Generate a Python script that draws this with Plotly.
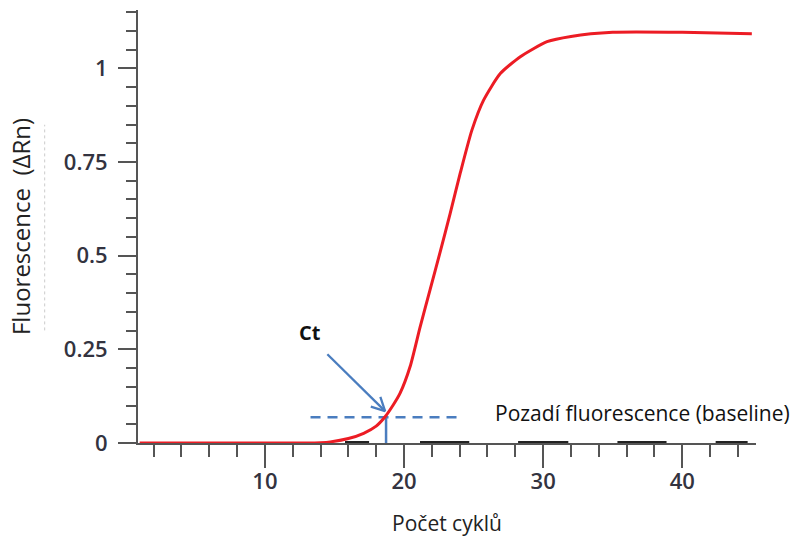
import math
import plotly.graph_objects as go

# Amplification curve (cycle number vs fluorescence ΔRn)
cycles = [1, 5, 10, 13, 14, 14.7, 16, 17.1, 18, 18.64, 19.2, 19.72, 20.44, 21.16,
          21.88, 22.6, 23.32, 24.04, 24.88, 25.72, 26.92, 28.36, 30.28, 32, 35, 40, 45]
fluorescence = [0, 0, 0, 0, 0.001, 0.003, 0.012, 0.026, 0.045, 0.07, 0.10, 0.133,
                0.204, 0.31, 0.41, 0.51, 0.613, 0.72, 0.835, 0.915, 0.986, 1.031,
                1.071, 1.085, 1.096, 1.096, 1.092]

# Threshold (baseline) and Ct
threshold_x = [13.28, 24.04]
threshold_y = 0.0686
ct_cycle = 18.71

# Arrow pointing to Ct
arrow_tail = (14.49, 0.237)
arrow_tip = (18.64, 0.085)
ct_label_pos = (13.24, 0.294)
baseline_label_pos = (26.4, 0.08)

# Thick dark segments visible on the x axis
axis_segments = [(15.76, 17.49), (21.15, 24.69), (28.2, 31.81), (35.34, 38.87), (42.4, 44.7)]

x_tickvals = [10, 20, 30, 40]
x_ticktext = ["10", "20", "30", "40"]
y_tickvals = [0, 0.25, 0.5, 0.75, 1]
y_ticktext = ["0", "0.25", "0.5", "0.75", "1"]

x_range = [0.88, 45.3]
y_range = [0, 1.1556]
W, H = 801, 539
margin = dict(l=138, r=45, t=10, b=96)

blue = "#4a7dbf"
red = "#ec1c24"
axis_col = "#555555"

fig = go.Figure()

seg_x, seg_y = [], []
for a, b in axis_segments:
    seg_x += [a, b, None]
    seg_y += [0, 0, None]
fig.add_trace(go.Scatter(x=seg_x, y=seg_y, mode="lines",
                         line=dict(color="#222222", width=4), hoverinfo="skip",
                         showlegend=False, cliponaxis=False))

# threshold dashed line
fig.add_trace(go.Scatter(x=threshold_x, y=[threshold_y, threshold_y], mode="lines",
                         line=dict(color=blue, width=2.5, dash="10px,7px"),
                         showlegend=False, hoverinfo="skip"))
# vertical Ct line
fig.add_trace(go.Scatter(x=[ct_cycle, ct_cycle], y=[0, threshold_y], mode="lines",
                         line=dict(color=blue, width=2.5), showlegend=False,
                         hoverinfo="skip"))

fig.add_trace(go.Scatter(x=cycles, y=fluorescence, mode="lines",
                         line=dict(color=red, width=3, shape="spline", smoothing=0.6),
                         showlegend=False, cliponaxis=False))

# Arrow with an open V head, built from the tail/tip via the axis scales
px_x = (W - margin["l"] - margin["r"]) / (x_range[1] - x_range[0])
px_y = (H - margin["t"] - margin["b"]) / (y_range[1] - y_range[0])
vx = (arrow_tip[0] - arrow_tail[0]) * px_x
vy = (arrow_tip[1] - arrow_tail[1]) * px_y
n = math.hypot(vx, vy)
ux, uy = -vx / n, -vy / n
head_len, head_ang = 15, math.radians(27)
arms = []
for s in (1, -1):
    c, si = math.cos(s * head_ang), math.sin(s * head_ang)
    rx, ry = ux * c - uy * si, ux * si + uy * c
    arms.append((arrow_tip[0] + rx * head_len / px_x, arrow_tip[1] + ry * head_len / px_y))
arrow_x = [arrow_tail[0], arrow_tip[0], None, arms[0][0], arrow_tip[0], arms[1][0]]
arrow_y = [arrow_tail[1], arrow_tip[1], None, arms[0][1], arrow_tip[1], arms[1][1]]
fig.add_trace(go.Scatter(x=arrow_x, y=arrow_y, mode="lines",
                         line=dict(color=blue, width=2.3), showlegend=False,
                         hoverinfo="skip"))

fig.add_annotation(x=ct_label_pos[0], y=ct_label_pos[1], text="<b>Ct</b>",
                   showarrow=False, font=dict(family="Open Sans", size=20, color="#111111"))
fig.add_annotation(x=baseline_label_pos[0], y=baseline_label_pos[1],
                   text="Pozadí fluorescence (baseline)", showarrow=False,
                   xanchor="left", yanchor="middle",
                   font=dict(family="Open Sans", size=21, color="#111111"))

# faint dotted line next to the y title
fig.add_shape(type="line", xref="paper", yref="paper", x0=-0.151, x1=-0.151,
              y0=0.26, y1=0.735, line=dict(color="#cccccc", width=1, dash="dot"))

tick_font = dict(family="Open Sans", size=22, color="#333340", weight=600)

fig.update_layout(
    width=W, height=H,
    margin=dict(**margin, autoexpand=False),
    plot_bgcolor="white", paper_bgcolor="white",
    xaxis=dict(range=x_range, showgrid=False, zeroline=False, automargin=False,
               showline=True, linecolor=axis_col, linewidth=2,
               tickvals=x_tickvals, ticktext=x_ticktext,
               ticks="outside", ticklen=23, tickwidth=2, tickcolor=axis_col,
               ticklabelstandoff=-5,
               minor=dict(dtick=2, tick0=0, ticks="outside", ticklen=12,
                          tickwidth=2, tickcolor=axis_col),
               tickfont=tick_font,
               title=dict(text="Počet cyklů", standoff=22,
                          font=dict(family="Open Sans", size=21, color="#222222"))),
    yaxis=dict(range=y_range, showgrid=False, zeroline=False, automargin=False,
               showline=True, linecolor=axis_col, linewidth=2,
               tickvals=y_tickvals, ticktext=y_ticktext,
               ticks="outside", ticklen=18, tickwidth=2, tickcolor=axis_col,
               ticklabelstandoff=6,
               minor=dict(dtick=0.05, tick0=0, ticks="outside", ticklen=10,
                          tickwidth=2, tickcolor=axis_col),
               tickfont=tick_font,
               title=dict(text="Fluorescence\u00a0 (ΔRn)\u00a0\u00a0\u00a0", standoff=26,
                          font=dict(family="Open Sans", size=24, color="#222222"))),
)

fig.write_html("out.html", config={"displayModeBar": False},
               post_script="document.body.style.margin='0px';document.body.style.padding='0px';")
